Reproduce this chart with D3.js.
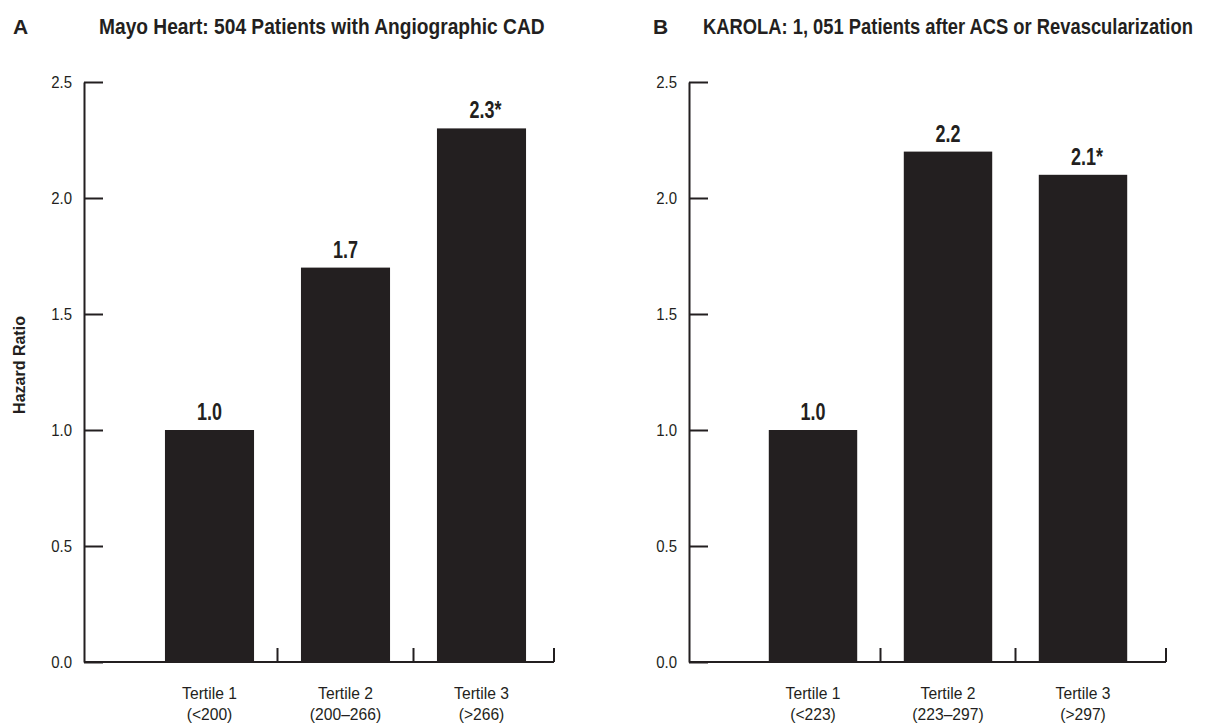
<!DOCTYPE html>
<html>
<head>
<meta charset="utf-8">
<script src="https://cdn.jsdelivr.net/npm/d3@7"></script>
<style>
  html, body { margin: 0; padding: 0; background: #fff; }
  svg { display: block; }
</style>
</head>
<body>
<svg id="chart" width="1207" height="725"></svg>
<script>
// ---- data ----
const categories = ["Tertile 1", "Tertile 2", "Tertile 3"];
const rangesA = ["(<200)", "(200\u2013266)", "(>266)"];
const rangesB = ["(<223)", "(223\u2013297)", "(>297)"];
const valuesA = [1.0, 1.7, 2.3];
const valuesB = [1.0, 2.2, 2.1];
const valueLabelsA = ["1.0", "1.7", "2.3*"];
const valueLabelsB = ["1.0", "2.2", "2.1*"];
const yTickValues = [0, 0.5, 1.0, 1.5, 2.0, 2.5];
const yTickLabels = ["0.0", "0.5", "1.0", "1.5", "2.0", "2.5"];
const panelLetters = ["A", "B"];
const titles = ["Mayo Heart: 504 Patients with Angiographic CAD",
                "KAROLA: 1, 051 Patients after ACS or Revascularization"];
const yAxisTitle = "Hazard Ratio";

// ---- layout ----
const INK = "#231f20";
const FONT = "'Liberation Sans', Arial, sans-serif";
const svg = d3.select("#chart");

const y = d3.scaleLinear().domain([0, 2.5]).range([662, 82]);

const panels = [
  { letter: panelLetters[0], title: titles[0], values: valuesA, labels: valueLabelsA, ranges: rangesA,
    axisX: 84, band: [141.5, 549.5], axisEnd: 554, letterX: 13, titleX: 99, titleW: 446 },
  { letter: panelLetters[1], title: titles[1], values: valuesB, labels: valueLabelsB, ranges: rangesB,
    axisX: 689, band: [745.5, 1150.5], axisEnd: 1166, letterX: 653, titleX: 703, titleW: 490 }
];

function condense(sel, f) {
  sel.each(function () {
    const w = this.getComputedTextLength();
    d3.select(this).attr("textLength", w * f).attr("lengthAdjust", "spacingAndGlyphs");
  });
}

panels.forEach(p => {
  const g = svg.append("g");
  const x = d3.scaleBand().domain(categories).range(p.band).paddingInner(0.345).paddingOuter(0.1725);

  // panel letter
  g.append("text").attr("x", p.letterX).attr("y", 34)
    .attr("font-family", FONT).attr("font-weight", "bold").attr("font-size", 21)
    .attr("fill", INK).text(p.letter);

  // title (condensed horizontally with a scale transform)
  const tg = g.append("g");
  const tt = tg.append("text").attr("x", 0).attr("y", 0)
    .attr("font-family", FONT).attr("font-weight", "bold").attr("font-size", 21.5)
    .attr("fill", INK).text(p.title);
  const natural = tt.node().getComputedTextLength();
  tg.attr("transform", `translate(${p.titleX},34) scale(${p.titleW / natural},1)`);

  // bars
  g.selectAll("rect.bar").data(p.values).join("rect")
    .attr("class", "bar")
    .attr("x", (d, i) => x(categories[i]))
    .attr("width", x.bandwidth())
    .attr("y", d => y(d))
    .attr("height", d => y(0) - y(d))
    .attr("fill", INK);

  // value labels
  const vl = g.selectAll("text.val").data(p.values).join("text")
    .attr("class", "val")
    .attr("x", (d, i) => x(categories[i]) + x.bandwidth() / 2 + (p.labels[i].endsWith("*") ? 4 : 0))
    .attr("y", d => y(d) - 10)
    .attr("text-anchor", "middle")
    .attr("font-family", FONT).attr("font-weight", "bold").attr("font-size", 23)
    .attr("fill", INK)
    .text((d, i) => p.labels[i]);
  condense(vl, 0.78);

  // y axis
  const yAxis = d3.axisLeft(y).tickValues(yTickValues)
    .tickFormat((d, i) => yTickLabels[i]).tickSize(-19).tickSizeOuter(0).tickPadding(12);
  const ya = g.append("g").attr("transform", `translate(${p.axisX},0)`).call(yAxis);
  ya.select(".domain").attr("stroke", INK).attr("stroke-width", 2);
  ya.selectAll(".tick line").attr("stroke", INK).attr("stroke-width", 2);
  const yt = ya.selectAll(".tick text").attr("font-family", FONT).attr("font-size", 17)
    .attr("fill", INK).attr("dy", "0.35em");
  condense(yt, 0.88);

  // x axis line
  g.append("line").attr("x1", p.axisX).attr("x2", p.axisEnd)
    .attr("y1", y(0)).attr("y2", y(0)).attr("stroke", INK).attr("stroke-width", 2);
  const tickXs = categories.map((c, i) => i < categories.length - 1
    ? x(c) + x.bandwidth() + x.step() * x.paddingInner() / 2
    : p.axisEnd);
  g.selectAll("line.xt").data(tickXs).join("line").attr("class", "xt")
    .attr("x1", d => d).attr("x2", d => d)
    .attr("y1", y(0)).attr("y2", y(0) - 14)
    .attr("stroke", INK).attr("stroke-width", 2);

  // x labels
  const xl = g.selectAll("g.xl").data(categories).join("g").attr("class", "xl")
    .attr("transform", c => `translate(${x(c) + x.bandwidth() / 2},0)`);
  const l1 = xl.append("text").attr("y", 699).attr("text-anchor", "middle")
    .attr("font-family", FONT).attr("font-size", 17).attr("fill", INK).text(c => c);
  const l2 = xl.append("text").attr("y", 720).attr("text-anchor", "middle")
    .attr("font-family", FONT).attr("font-size", 17).attr("fill", INK)
    .text((c, i) => p.ranges[i]);
  condense(l1, 0.92);
  condense(l2, 0.92);
});

// y axis title
svg.append("text")
  .attr("transform", `translate(25,365) rotate(-90)`)
  .attr("text-anchor", "middle")
  .attr("font-family", FONT).attr("font-weight", "bold").attr("font-size", 16)
  .attr("fill", INK).text(yAxisTitle);
</script>
</body>
</html>
